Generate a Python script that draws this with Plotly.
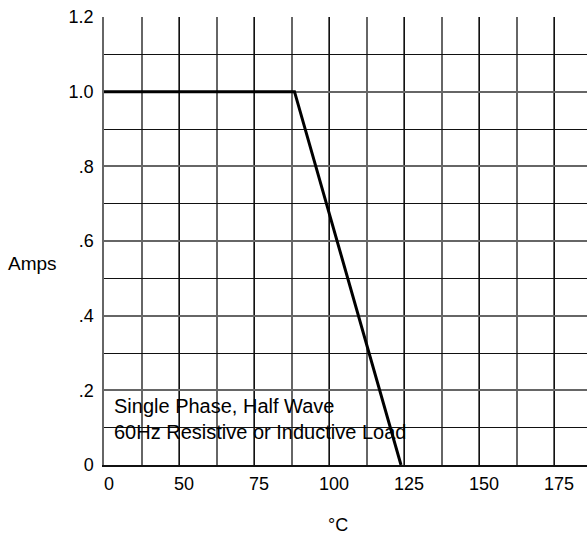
import plotly.graph_objects as go

# Data
temps_c = [25, 88.5, 124]
amps = [1.0, 1.0, 0.0]

x_tick_vals = [25, 50, 75, 100, 125, 150, 175]
x_tick_text = ["0", "50", "75", "100", "125", "150", "175"]
y_tick_vals = [0, 0.2, 0.4, 0.6, 0.8, 1.0, 1.2]
y_tick_text = ["0", ".2", ".4", ".6", ".8", "1.0", "1.2"]

note_lines = ["Single Phase, Half Wave", "60Hz Resistive or Inductive Load"]

FONT = "Liberation Sans, Arial, sans-serif"

fig = go.Figure()
fig.add_trace(go.Scatter(
    x=temps_c, y=amps, mode="lines",
    line=dict(color="black", width=3),
    hoverinfo="skip", showlegend=False,
))

fig.update_xaxes(
    range=[25, 186], tickvals=x_tick_vals, ticktext=x_tick_text,
    showgrid=True, gridcolor="#111111", gridwidth=1,
    minor=dict(dtick=12.5, tick0=25, showgrid=True, gridcolor="#666666", gridwidth=1.5),
    showline=True, linecolor="#111111", linewidth=1.5,
    ticks="", zeroline=False,
    tickfont=dict(family=FONT, size=18, color="black"),
    ticklabelshift=5, ticklabelstandoff=2,
)
fig.update_yaxes(
    range=[0, 1.2], tickvals=y_tick_vals, ticktext=y_tick_text,
    showgrid=True, gridcolor="#666666", gridwidth=1.5,
    minor=dict(dtick=0.1, tick0=0, showgrid=True, gridcolor="#111111", gridwidth=1),
    showline=True, linecolor="#666666", linewidth=1.5,
    ticks="", zeroline=False,
    tickfont=dict(family=FONT, size=18, color="black"),
    ticklabelstandoff=5,
)

fig.add_annotation(
    x=27.6, y=0.123, xref="x", yref="y", xanchor="left", yanchor="middle",
    text="<br>".join(note_lines), align="left", showarrow=False,
    font=dict(family=FONT, size=20, color="black"),
)
fig.add_annotation(
    x=-0.149, y=0.54, xref="paper", yref="y", xanchor="center", yanchor="middle",
    text="Amps", showarrow=False,
    font=dict(family=FONT, size=19, color="black"),
)
fig.add_annotation(
    x=103, y=-0.134, xref="x", yref="paper", xanchor="center", yanchor="middle",
    text="°C", showarrow=False,
    font=dict(family=FONT, size=18, color="black"),
)

fig.update_layout(
    width=587, height=537,
    margin=dict(l=104, r=0, t=17, b=72),
    plot_bgcolor="white", paper_bgcolor="white",
)

fig.write_html(
    "out.html",
    config={"displayModeBar": False},
    post_script="document.body.style.margin='0';document.body.style.overflow='hidden';",
)
